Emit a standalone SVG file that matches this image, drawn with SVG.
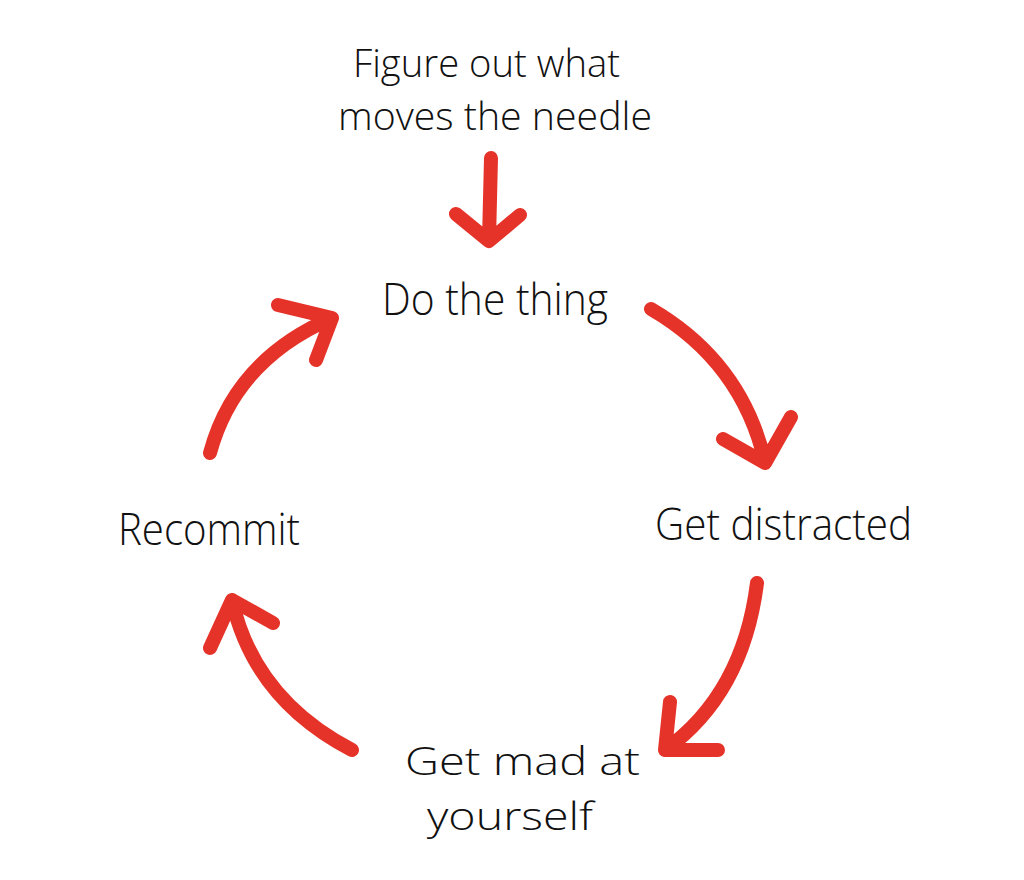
<svg xmlns="http://www.w3.org/2000/svg" width="1024" height="880" viewBox="0 0 1024 880">
<style>
.lbl{font-family:"DejaVu Sans ExtraLight","Open Sans","Liberation Sans",sans-serif;font-weight:300;font-size:44px;fill:#111}
.sm{font-size:38px}
.arr{fill:none;stroke:#E63329;stroke-width:14;stroke-linecap:round;stroke-linejoin:round}
</style>
<rect width="1024" height="880" fill="#fff"/>
<g id="node-figure">
<text class="lbl sm" x="353" y="77" textLength="267" lengthAdjust="spacingAndGlyphs">Figure out what</text>
<text class="lbl sm" x="338" y="130" textLength="314" lengthAdjust="spacingAndGlyphs">moves the needle</text>
</g>
<g id="node-do">
<text class="lbl" x="382" y="315" textLength="226" lengthAdjust="spacingAndGlyphs">Do the thing</text>
</g>
<g id="node-distracted">
<text class="lbl" x="655" y="540" textLength="257" lengthAdjust="spacingAndGlyphs">Get distracted</text>
</g>
<g id="node-mad">
<text class="lbl sm" x="405" y="775" textLength="235" lengthAdjust="spacingAndGlyphs">Get mad at</text>
<text class="lbl sm" x="427" y="830" textLength="166" lengthAdjust="spacingAndGlyphs">yourself</text>
</g>
<g id="node-recommit">
<text class="lbl" x="118" y="545" textLength="182" lengthAdjust="spacingAndGlyphs">Recommit</text>
</g>
<g id="connectors">
<path class="arr" d="M491,158 L489,240 M456,214 L489,241 L520,215"/>
<path class="arr" d="M651,309 Q742,362 765,462 M723,439 L765,463 L791,417"/>
<path class="arr" d="M757,583 Q743,694 665,750 M670,702 L665,750 L718,750"/>
<path class="arr" d="M352,750 Q254,699 232,600 M210,648 L232,600 L273,623"/>
<path class="arr" d="M210,453 Q235,360 332,318 M278,305 L332,318 L316,360"/>
</g>
</svg>
